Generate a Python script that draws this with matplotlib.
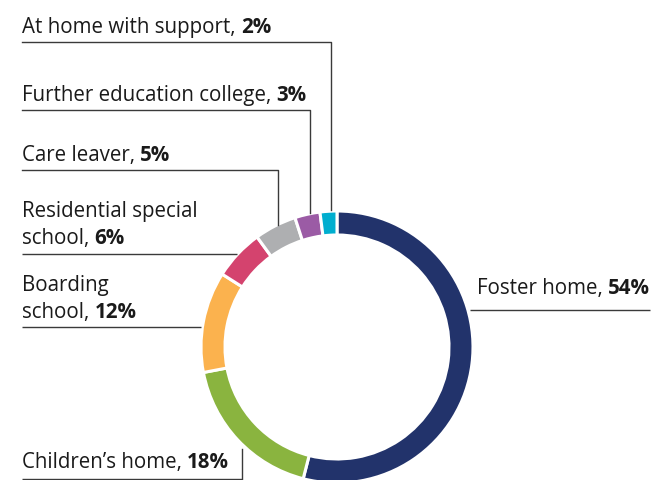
import numpy as np
import matplotlib
matplotlib.use("Agg")
import matplotlib.pyplot as plt

# data, clockwise from 12 o'clock
categories = ["Foster home", "Children\u2019s home", "Boarding school",
              "Residential special school", "Care leaver",
              "Further education college", "At home with support"]
shares = [54, 18, 12, 6, 5, 3, 2]
colors = ["#22336b", "#8ab43f", "#fbb24e", "#d4436e", "#aeafb1", "#9b5ba5", "#00aecf"]

# label text split into lines; the last line gets the bold share
label_lines = [["Foster home, "], ["Children\u2019s home, "], ["Boarding", "school, "],
               ["Residential special", "school, "], ["Care leaver, "],
               ["Further education college, "], ["At home with support, "]]

W, H = 662, 480
CX, CY, R, RW = 337, H - 347, 136, 24
FONT = "Open Sans"
FS = 14.8
TXT = "#1a1a1a"
LINE = "#3a3a3a"

fig = plt.figure(figsize=(W / 100, H / 100), dpi=100)
ax = fig.add_axes([0, 0, 1, 1])

wedges, _ = ax.pie(shares, colors=colors, startangle=90, counterclock=False,
                   radius=R, center=(CX, CY),
                   wedgeprops=dict(width=RW, edgecolor="white", linewidth=2.2))
ax.set_xlim(0, W)
ax.set_ylim(0, H)
ax.set_aspect("equal")
ax.axis("off")

# label layout: x, baseline y of last line (pixels from top), underline y, line end x
label_x = [477, 22, 22, 22, 22, 22, 22]
label_base = [294, 468, 318, 244, 161, 101, 33]
under_y = [310, 479, 327, 254, 170, 110, 42]
under_x1 = [650, 242, 201, 237, None, None, None]
line_gap = 27

for i, (cat, v) in enumerate(zip(categories, shares)):
    lines = label_lines[i]
    n = len(lines)
    for k, ln in enumerate(lines):
        yb = H - (label_base[i] - (n - 1 - k) * line_gap)
        t = ax.text(label_x[i], yb, ln, fontsize=FS, family=FONT, color=TXT,
                    ha="left", va="baseline")
        if k == n - 1:
            ax.annotate(f"{v}%", xy=(1, 0), xycoords=t, fontsize=FS, family=FONT,
                        fontweight="bold", color=TXT, ha="left", va="bottom")

    # leader lines
    uy = H - under_y[i]
    if under_x1[i] is not None:
        x0 = 470 if i == 0 else 22
        ax.plot([x0, under_x1[i]], [uy, uy], color=LINE, lw=1.0, solid_capstyle="butt")
        if i == 1:
            ax.plot([under_x1[i]] * 2, [uy, H - 449], color=LINE, lw=1.0)
    else:
        w = wedges[i]
        mid = np.deg2rad((w.theta1 + w.theta2) / 2)
        xe = CX + (R - 1) * np.cos(mid) + 2
        ye = CY + (R - 1) * np.sin(mid) + 2
        ax.plot([22, xe, xe], [uy, uy, ye], color=LINE, lw=1.0)

fig.savefig("out.png", dpi=100)
